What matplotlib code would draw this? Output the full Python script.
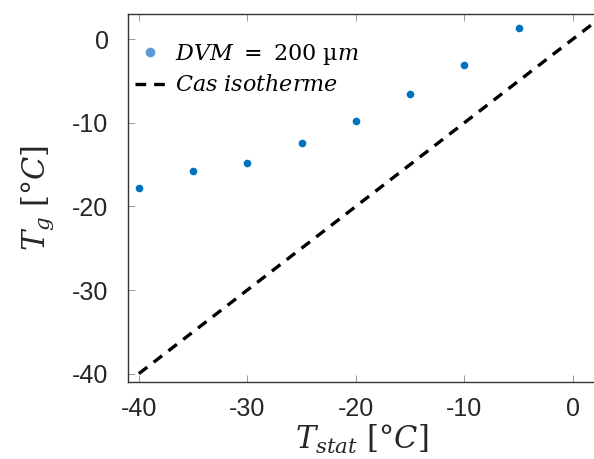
import matplotlib
matplotlib.use("Agg")
import matplotlib.pyplot as plt
from matplotlib.lines import Line2D

T_stat = [-40, -35, -30, -25, -20, -15, -10, -5]
T_g = [-17.8, -15.8, -14.8, -12.4, -9.8, -6.6, -3.1, 1.35]
iso_x = [-40, 2]
iso_y = [-40, 2]
xticks = [-40, -30, -20, -10, 0]
yticks = [-40, -30, -20, -10, 0]

plt.rcParams['mathtext.fontset'] = 'dejavuserif'
plt.rcParams['font.family'] = ['Liberation Sans', 'DejaVu Sans']

fig = plt.figure(figsize=(5.94, 4.59), dpi=100)
ax = fig.add_axes([128/594, 77/459, 466.6/594, 368/459])

ax.plot(T_stat, T_g, 'o', color='#0072BD', markersize=5.5, markeredgewidth=0, zorder=3)
ax.plot(iso_x, iso_y, '--', color='black', linewidth=2.4, dashes=(3.2, 2.4), zorder=2)

ax.set_xlim(-41, 2)
ax.set_ylim(-41, 3)
ax.set_xticks(xticks)
ax.set_yticks(yticks)
ax.set_xticklabels([str(v) for v in xticks])
ax.set_yticklabels([str(v) for v in yticks])
ax.tick_params(direction='in', length=5, width=0.6, color='#888888',
               labelsize=18, labelcolor='#262626', top=True)
ax.tick_params(axis='x', pad=11)
ax.tick_params(axis='y', pad=14)
for s in ['left', 'bottom', 'top']:
    ax.spines[s].set_color('#333333')
    ax.spines[s].set_linewidth(1.0)
ax.spines['right'].set_visible(False)

ax.set_xlabel(r'$T_{stat}\ [°C]$', fontsize=22, color='#262626', labelpad=1)
ax.set_ylabel(r'$T_g\ [°C]$', fontsize=22, color='#262626', labelpad=12)

handles = [
    Line2D([], [], marker='o', linestyle='none', color='#5B9BD5', markersize=7, markeredgewidth=0),
    Line2D([], [], linestyle='--', color='black', linewidth=2.4, dashes=(3.2, 2.4)),
]
labels = [r'$DVM\ =\ 200\ \mathrm{µ}m$', r'$Cas\ isotherme$']
ax.legend(handles, labels, loc='upper left', bbox_to_anchor=(0.014, 0.925),
          frameon=False, fontsize=16, handlelength=1.4, handletextpad=0.4,
          labelspacing=0.4, borderpad=0, borderaxespad=0)

fig.savefig('out.png', dpi=100)
